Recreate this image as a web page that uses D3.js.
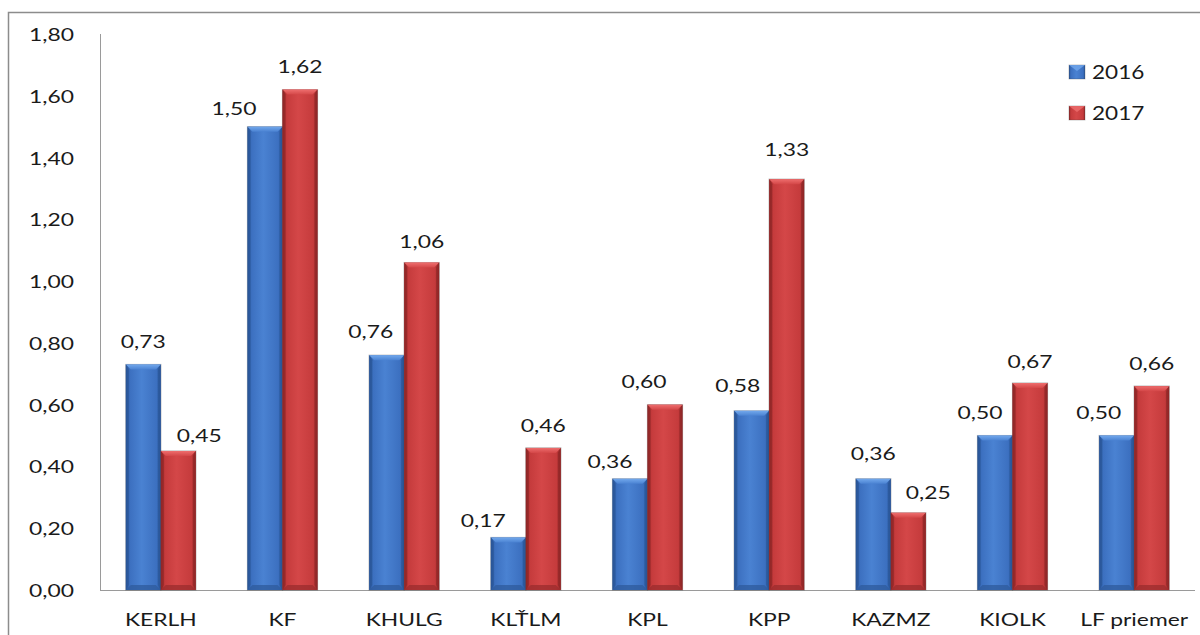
<!DOCTYPE html>
<html>
<head>
<meta charset="utf-8">
<script src="https://cdn.jsdelivr.net/npm/d3@7"></script>
<style>
  html, body { margin: 0; padding: 0; background: #fff; }
  svg { display: block; }
  text { font-family: Lato, "Open Sans", sans-serif; fill: #1a1a1a; }
</style>
</head>
<body>
<svg id="chart" width="1200" height="635"></svg>
<script>
// Faculty departments and yearly values
const categories = ["KERLH", "KF", "KHULG", "KLŤLM", "KPL", "KPP", "KAZMZ", "KIOLK", "LF priemer"];
const values2016 = [0.73, 1.50, 0.76, 0.17, 0.36, 0.58, 0.36, 0.50, 0.50];
const values2017 = [0.45, 1.62, 1.06, 0.46, 0.60, 1.33, 0.25, 0.67, 0.66];
const seriesNames = ["2016", "2017"];
const yTicks = [0, 0.2, 0.4, 0.6, 0.8, 1.0, 1.2, 1.4, 1.6, 1.8];

// Label placement: [horizontal shift, baseline gap above the bar top]
const labelPlace2016 = [[0, 17], [-31, 12], [-16, 17], [-25, 10], [-20, 11], [-14, 19], [0, 19], [-15, 17], [-18, 17]];
const labelPlace2017 = [[21, 9], [0, 17], [0, 15], [0, 16], [-21, 17], [0, 23], [20, 14], [0, 15], [0, 16]];

const fmt = v => v.toFixed(2).replace(".", ",");

const svg = d3.select("#chart");
const plotLeft = 100, plotRight = 1195, plotTop = 34, plotBottom = 590;

// Outer chart frame
svg.append("rect")
  .attr("x", 8.5).attr("y", 12.5)
  .attr("width", 1300).attr("height", 700)
  .attr("fill", "#fff").attr("stroke", "#8c8c8c").attr("stroke-width", 1.5);

const x = d3.scaleBand().domain(categories).range([plotLeft, plotRight]).paddingInner(0).paddingOuter(0);
const groupW = 70;
const xs = d3.scaleBand().domain(seriesNames).range([0, groupW]);
const y = d3.scaleLinear().domain([0, 1.8]).range([plotBottom, plotTop]);

// Gradients for the bevelled bars
const defs = svg.append("defs");
const palettes = {
  "2016": { dark: "#2a5597", mid: "#3c70c0", light: "#4a82d2", top: "#72a8ec", bottom: "#2f5c9f" },
  "2017": { dark: "#8f2627", mid: "#c53b3c", light: "#d44748", top: "#ee6e6e", bottom: "#9e2d2e" }
};
seriesNames.forEach(s => {
  const p = palettes[s];
  const g = defs.append("linearGradient").attr("id", "grad" + s)
    .attr("x1", "0%").attr("x2", "100%").attr("y1", "0%").attr("y2", "0%");
  g.append("stop").attr("offset", "0%").attr("stop-color", p.dark);
  g.append("stop").attr("offset", "12%").attr("stop-color", p.mid);
  g.append("stop").attr("offset", "45%").attr("stop-color", p.light);
  g.append("stop").attr("offset", "88%").attr("stop-color", p.mid);
  g.append("stop").attr("offset", "100%").attr("stop-color", p.dark);
  const t = defs.append("linearGradient").attr("id", "top" + s)
    .attr("x1", "0%").attr("x2", "0%").attr("y1", "0%").attr("y2", "100%");
  t.append("stop").attr("offset", "0%").attr("stop-color", p.top);
  t.append("stop").attr("offset", "100%").attr("stop-color", p.light);
});

// Axes lines
svg.append("line").attr("x1", plotLeft + 0.5).attr("x2", plotLeft + 0.5).attr("y1", plotTop).attr("y2", plotBottom)
  .attr("stroke", "#9a9a9a").attr("stroke-width", 1);
svg.append("line").attr("x1", plotLeft).attr("x2", plotRight).attr("y1", plotBottom + 0.5).attr("y2", plotBottom + 0.5)
  .attr("stroke", "#9a9a9a").attr("stroke-width", 1);

// Helper: horizontally stretched text
function stretchedText(parent, tx, ty, str, size, anchor, sx) {
  const g = parent.append("g").attr("transform", `translate(${tx},${ty}) scale(${sx},1)`);
  g.append("text").attr("x", 0).attr("y", 0)
    .attr("text-anchor", anchor).attr("font-size", size).text(str);
  return g;
}

// Y tick labels
const yAxisG = svg.append("g");
yTicks.forEach(t => {
  stretchedText(yAxisG, 74, y(t) + 7, fmt(t), 18, "end", 1.27);
});

// X category labels
const xAxisG = svg.append("g");
categories.forEach(c => {
  stretchedText(xAxisG, x(c) + x.bandwidth() / 2, 626, c, 18, "middle", 1.27);
});

// Bars
const data = [];
categories.forEach((c, i) => {
  data.push({ cat: c, series: "2016", value: values2016[i], place: labelPlace2016[i] });
  data.push({ cat: c, series: "2017", value: values2017[i], place: labelPlace2017[i] });
});

const barsG = svg.append("g");
const labelsG = svg.append("g");
const bev = 5;
data.forEach(d => {
  const bx = x(d.cat) + (x.bandwidth() - groupW) / 2 + xs(d.series);
  const bw = xs.bandwidth();
  const by = y(d.value);
  const bh = y(0) - by;
  const p = palettes[d.series];
  const g = barsG.append("g");
  // shadow edge
  g.append("rect").attr("x", bx).attr("y", by).attr("width", bw).attr("height", bh)
    .attr("fill", "none").attr("stroke", "rgba(60,60,60,0.35)").attr("stroke-width", 1.2);
  g.append("rect").attr("x", bx).attr("y", by).attr("width", bw).attr("height", bh)
    .attr("fill", `url(#grad${d.series})`);
  const b = Math.min(bev, bh / 2);
  // top bevel
  g.append("path")
    .attr("d", `M${bx},${by} L${bx + bw},${by} L${bx + bw - b},${by + b} L${bx + b},${by + b} Z`)
    .attr("fill", `url(#top${d.series})`);
  // bottom bevel
  g.append("path")
    .attr("d", `M${bx},${by + bh} L${bx + bw},${by + bh} L${bx + bw - b},${by + bh - b} L${bx + b},${by + bh - b} Z`)
    .attr("fill", p.bottom).attr("opacity", 0.8);
  // side bevels
  g.append("path")
    .attr("d", `M${bx},${by} L${bx + b * 0.6},${by + b} L${bx + b * 0.6},${by + bh - b} L${bx},${by + bh} Z`)
    .attr("fill", p.dark).attr("opacity", 0.7);
  g.append("path")
    .attr("d", `M${bx + bw},${by} L${bx + bw - b * 0.6},${by + b} L${bx + bw - b * 0.6},${by + bh - b} L${bx + bw},${by + bh} Z`)
    .attr("fill", p.dark).attr("opacity", 0.7);
  // value label
  stretchedText(labelsG, bx + bw / 2 + d.place[0], by - d.place[1], fmt(d.value), 18, "middle", 1.27);
});

// Legend
const legend = svg.append("g");
seriesNames.forEach((s, i) => {
  const ly = 65 + i * 41;
  const p = palettes[s];
  legend.append("rect").attr("x", 1069).attr("y", ly).attr("width", 16).attr("height", 14)
    .attr("fill", `url(#grad${s})`).attr("stroke", "rgba(60,60,60,0.35)").attr("stroke-width", 0.8);
  legend.append("path")
    .attr("d", `M1069,${ly} L1085,${ly} L1077,${ly + 6} Z`)
    .attr("fill", p.top).attr("opacity", 0.8);
  stretchedText(legend, 1092, ly + 14, s, 20, "start", 1.13);
});
</script>
</body>
</html>
